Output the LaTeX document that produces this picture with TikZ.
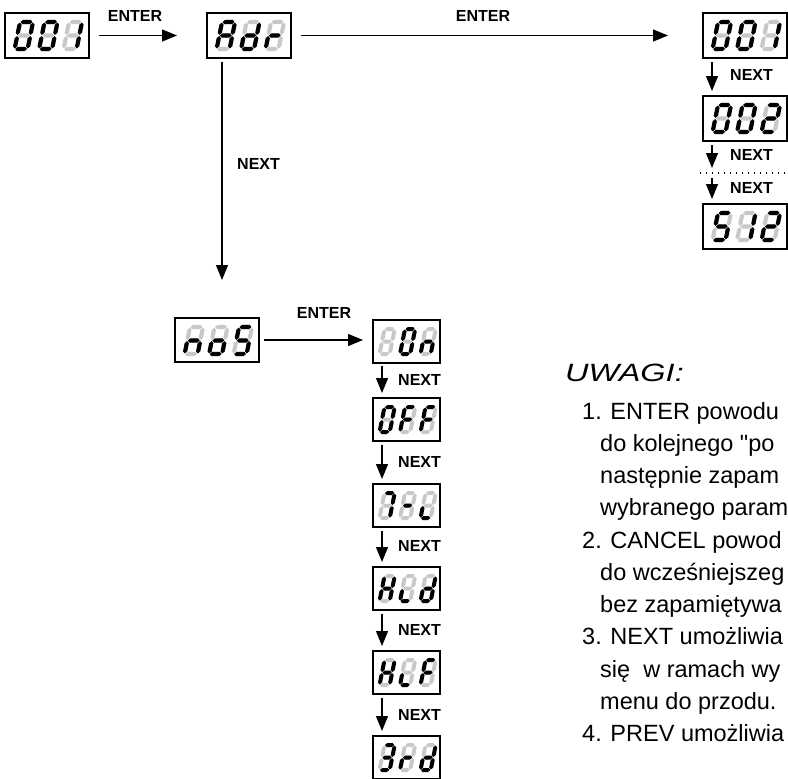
\documentclass[tikz,border=0pt]{standalone}
\usepackage{fontspec}
\setmainfont{Liberation Sans}
\newfontfamily\plainfont{Liberation Sans}
\usetikzlibrary{arrows.meta}
\definecolor{segoff}{RGB}{200,200,200}

\def\dw{13}\def\dh{27}\def\dt{2.1}\def\dg{0.6}\def\dsl{0.2}
\def\bw{84pt}\def\bh{45pt}\def\po{15}\def\pp{24.5}\def\ptop{9}

\newcommand\hsg[4]{\fill[#4] ({#1},{#3}) -- ({#1+\dt},{#3-\dt}) -- ({#2-\dt},{#3-\dt}) -- ({#2},{#3}) -- ({#2-\dt},{#3+\dt}) -- ({#1+\dt},{#3+\dt}) -- cycle;}
\newcommand\vsg[4]{\fill[#4] ({#1},{#2}) -- ({#1+\dt},{#2+\dt}) -- ({#1+\dt},{#3-\dt}) -- ({#1},{#3}) -- ({#1-\dt},{#3-\dt}) -- ({#1-\dt},{#2+\dt}) -- cycle;}
\newcommand\segA[1]{\hsg{\dg}{\dw-\dg}{0}{#1}}
\newcommand\segG[1]{\hsg{\dg}{\dw-\dg}{\dh/2}{#1}}
\newcommand\segD[1]{\hsg{\dg}{\dw-\dg}{\dh}{#1}}
\newcommand\segB[1]{\vsg{\dw}{\dg}{\dh/2-\dg}{#1}}
\newcommand\segC[1]{\vsg{\dw}{\dh/2+\dg}{\dh-\dg}{#1}}
\newcommand\segF[1]{\vsg{0}{\dg}{\dh/2-\dg}{#1}}
\newcommand\segE[1]{\vsg{0}{\dh/2+\dg}{\dh-\dg}{#1}}
\newcommand\segN[1]{}
\newcommand\sdig[3]{%
  \begin{scope}[shift={({#1},{#2})},xslant=\dsl]
    \foreach \s in {A,B,C,D,E,F,G}{\csname seg\s\endcsname{segoff}}
    \foreach \s in {#3}{\csname seg\s\endcsname{black}}
  \end{scope}}
\newcommand\sdisp[6]{%
  \node[dbox, minimum width=\bw, minimum height=\bh, anchor=north west] (#1) at (#2,#3) {};
  \sdig{#2+\po}{#3+\ptop}{#4}
  \sdig{#2+\po+\pp}{#3+\ptop}{#5}
  \sdig{#2+\po+2*\pp}{#3+\ptop}{#6}}

\begin{document}
\begin{tikzpicture}[x=1pt,y=-1pt,
  dbox/.style={draw, line width=2pt, inner sep=0pt, outer sep=0pt},
  lab/.style={font=\bfseries\fontsize{16}{16}\selectfont, inner sep=0pt},
  note/.style={font=\plainfont\fontsize{23.5}{23.5}\selectfont, anchor=base west, inner sep=0pt},
  arr/.style={line width=1.2pt, -{Triangle[length=15pt,width=12pt]}},
  dotline/.style={line width=1.3pt, dash pattern=on 1.3pt off 4.7pt}]
\useasboundingbox (0,0) rectangle (788,779);
\clip (0,0) rectangle (788,779);

% large displays
\sdisp{b001}{5}{13}{A,B,C,D,E,F}{A,B,C,D,E,F}{B,C}
\sdisp{badr}{207}{13}{A,B,C,E,F,G}{B,C,D,E,G}{E,G}
\sdisp{rone}{703}{13}{A,B,C,D,E,F}{A,B,C,D,E,F}{B,C}
\sdisp{rtwo}{703}{96}{A,B,C,D,E,F}{A,B,C,D,E,F}{A,B,G,E,D}
\sdisp{rlast}{703}{204}{A,F,G,C,D}{B,C}{A,B,G,E,D}
\def\bh{44pt}
\sdisp{bnos}{175}{318}{C,E,G}{C,D,E,G}{A,F,G,C,D}

% small displays (lower column)
\def\dw{10.2}\def\dh{25}\def\dt{2.0}\def\dg{0.5}
\def\bw{67pt}\def\bh{43pt}\def\po{11.5}\def\pp{20.5}\def\ptop{9}
\sdisp{bon}{373}{320}{N}{A,B,C,D,E,F}{C,E,G}
\sdisp{boff}{373}{398}{A,B,C,D,E,F}{A,E,F,G}{A,E,F,G}
\sdisp{bsev}{373}{484}{A,B,C}{G}{E,D}
\sdisp{bhld}{373}{567}{B,C,E,F,G}{E,D}{B,C,D,E,G}
\sdisp{bhlf}{373}{651}{B,C,E,F,G}{E,D}{A,E,F,G}
\sdisp{brd}{373}{736}{A,B,C,D,G}{E,G}{B,C,D,E,G}

% top row
\draw[arr, shorten <=10pt, shorten >=30pt] (b001.east) -- (badr.west);
\node[lab] (e1) at (135,16) {ENTER};
\draw[arr, shorten <=10pt, shorten >=35pt] (badr.east) -- (rone.west);
\node[lab] (e2) at (483,16) {ENTER};

% main vertical
\coordinate (vx) at (222,0);
\draw[arr, shorten <=4pt, shorten >=38pt] (badr.south -| vx) -- (bnos.north -| vx);
\node[lab, anchor=west] (n0) at (237,164) {NEXT};

% noS -> 0n
\draw[arr, shorten <=5pt, shorten >=10pt] (bnos.east) -- (bon.west |- bnos.east);
\node[lab] (e3) at (324,313) {ENTER};

% right column
\coordinate (rx) at (712,0);
\coordinate (dotl) at (700,173);
\coordinate (dotr) at (788,173);
\draw[arr, shorten <=4pt, shorten >=5pt] (rone.south -| rx) -- (rtwo.north -| rx);
\node[lab, anchor=west] (rn1) at (730,75) {NEXT};
\draw[arr, shorten <=4pt, shorten >=5pt] (rtwo.south -| rx) -- (dotl -| rx);
\node[lab, anchor=west] (rn2) at (730,155) {NEXT};
\draw[dotline] (dotl) -- (dotr);
\draw[arr, shorten <=5pt, shorten >=5pt] (dotl -| rx) -- (rlast.north -| rx);
\node[lab, anchor=west] (rn3) at (730,188) {NEXT};

% lower column
\coordinate (lx) at (382,0);
\draw[arr, shorten <=3pt, shorten >=5pt] (bon.south -| lx) -- (boff.north -| lx);
\node[lab, anchor=west] (ln1) at (398,380) {NEXT};
\draw[arr, shorten <=4pt, shorten >=5pt] (boff.south -| lx) -- (bsev.north -| lx);
\node[lab, anchor=west] (ln2) at (398,462) {NEXT};
\draw[arr, shorten <=4pt, shorten >=5pt] (bsev.south -| lx) -- (bhld.north -| lx);
\node[lab, anchor=west] (ln3) at (398,546) {NEXT};
\draw[arr, shorten <=4pt, shorten >=5pt] (bhld.south -| lx) -- (bhlf.north -| lx);
\node[lab, anchor=west] (ln4) at (398,630) {NEXT};
\draw[arr, shorten <=4pt, shorten >=5pt] (bhlf.south -| lx) -- (brd.north -| lx);
\node[lab, anchor=west] (ln5) at (398,715) {NEXT};

% notes
\node[anchor=base west, inner sep=0pt, font=\plainfont\fontsize{25}{25}\selectfont\itshape] (uw) at (565,381) {\scalebox{1.3}[1]{UWAGI:}};
\node[note] (t1) at (582,419) {1. ENTER powodu};
\node[note] (t2) at (600,451) {do kolejnego "po};
\node[note] (t3) at (600,483) {następnie zapam};
\node[note] (t4) at (600,515) {wybranego param};
\node[note] (t5) at (582,548) {2. CANCEL powod};
\node[note] (t6) at (600,580) {do wcześniejszeg};
\node[note] (t7) at (600,612) {bez zapamiętywa};
\node[note] (t8) at (582,644) {3. NEXT umożliwia};
\node[note] (t9) at (600,677) {się~ w ramach wy};
\node[note] (t10) at (600,709) {menu do przodu.};
\node[note] (t11) at (582,741) {4. PREV umożliwia};
\end{tikzpicture}
\end{document}
